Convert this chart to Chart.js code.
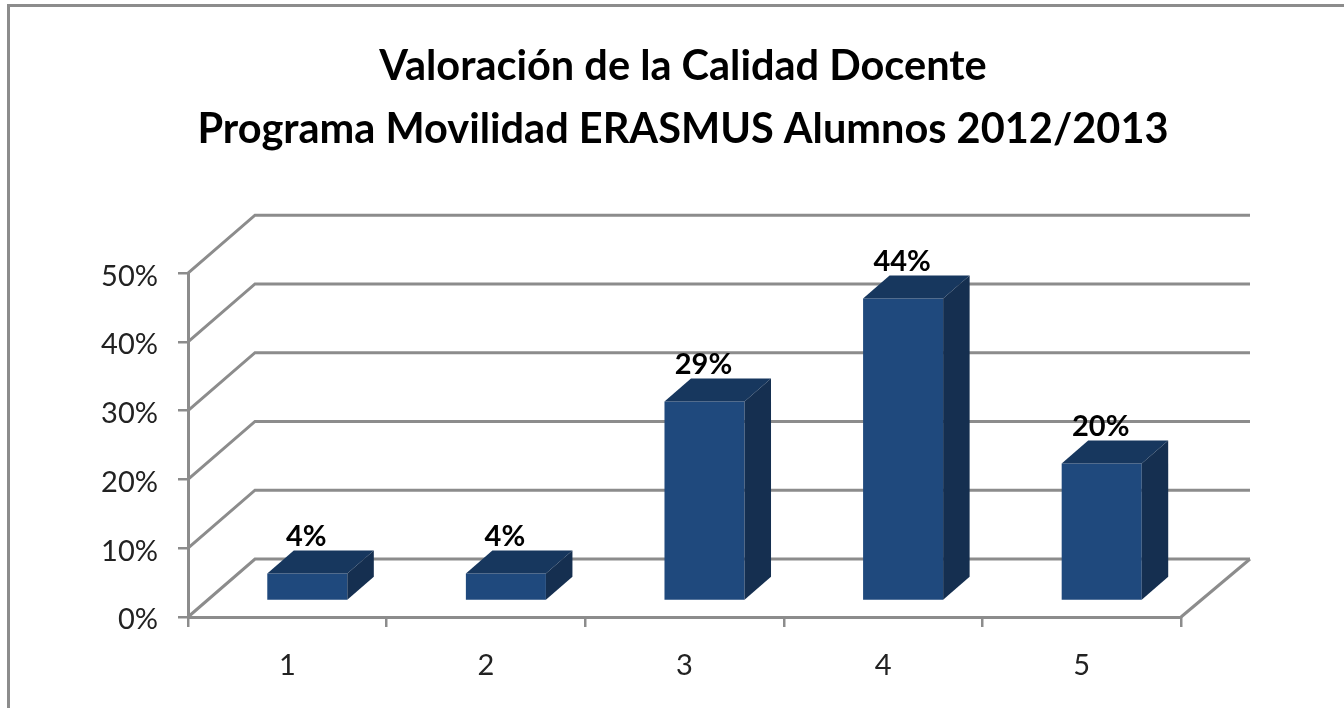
<!DOCTYPE html>
<html><head><meta charset="utf-8">
<script src="https://cdn.jsdelivr.net/npm/chart.js@4"></script>
<style>html,body{margin:0;padding:0;background:#fff;overflow:hidden}canvas{display:block;filter:blur(0.5px)}</style>
</head><body><div style="width:1344px;height:708px"><canvas id="c" width="1344" height="708"></canvas></div>
<script>
const categories = ['1','2','3','4','5'];
const values = [4,4,29,44,20];
const titleLines = ['Valoración de la Calidad Docente','Programa Movilidad ERASMUS Alumnos 2012/2013'];
const FONT='Lato';
const AXIS='#8c8c8c';
const wall={dx:67,dy:58}, barShift={dx:20,dy:-16}, barDepth={dx:26.5,dy:23};
const colors={front:'#1f497d',top:'#17375e',side:'#152f50'};
const scene={id:'scene',
 beforeDraw(ch){const c=ch.ctx;c.save();c.fillStyle='#fff';c.fillRect(0,0,ch.width,ch.height);
  c.strokeStyle=AXIS;c.lineWidth=3;c.beginPath();c.moveTo(8.5,708);c.lineTo(8.5,5.5);c.lineTo(1344,5.5);c.stroke();c.restore();},
 beforeDatasetsDraw(ch){const c=ch.ctx,y=ch.scales.y,x=ch.scales.x;c.save();c.strokeStyle=AXIS;c.lineWidth=3;
  y.ticks.forEach(t=>{const p=y.getPixelForValue(t.value);c.beginPath();c.moveTo(x.left,p);c.lineTo(x.left+wall.dx,p-wall.dy);c.lineTo(x.right+wall.dx+2,p-wall.dy);c.stroke();});
  const p0=y.getPixelForValue(0);c.beginPath();c.moveTo(x.right,p0);c.lineTo(x.right+wall.dx+2,p0-wall.dy);c.stroke();c.restore();
  c.save();c.translate(barShift.dx,barShift.dy);},
 afterDatasetsDraw(ch){const c=ch.ctx;
  ch.getDatasetMeta(0).data.forEach(b=>{const l=b.x-b.width/2,r=b.x+b.width/2;
   c.fillStyle=colors.top;c.beginPath();c.moveTo(l,b.y);c.lineTo(l+barDepth.dx,b.y-barDepth.dy);c.lineTo(r+barDepth.dx,b.y-barDepth.dy);c.lineTo(r,b.y);c.closePath();c.fill();
   c.fillStyle=colors.side;c.beginPath();c.moveTo(r,b.y);c.lineTo(r+barDepth.dx,b.y-barDepth.dy);c.lineTo(r+barDepth.dx,b.base-barDepth.dy);c.lineTo(r,b.base);c.closePath();c.fill();});
  c.fillStyle='#000';c.font='bold 29px '+FONT;c.textAlign='center';c.textBaseline='middle';
  ch.getDatasetMeta(0).data.forEach((b,i)=>{c.fillText(values[i]+'%',b.x-1,b.y-37);});
  c.restore();}
};
new Chart(document.getElementById('c'),{type:'bar',plugins:[scene],
 data:{labels:categories,datasets:[{data:values,backgroundColor:colors.front,borderWidth:0,categoryPercentage:1,barPercentage:0.403}]},
 options:{responsive:false,animation:false,
  layout:{padding:{left:22,right:0,top:0,bottom:0}},
  plugins:{legend:{display:false},tooltip:{enabled:false},
   title:{display:true,text:titleLines,color:'#000',font:{family:FONT,size:41.5,weight:'bold',lineHeight:1.52},padding:{top:35,bottom:112}}},
  scales:{
   x:{afterFit(s){s.height=91},grid:{drawOnChartArea:false,color:AXIS,lineWidth:2.5,tickLength:10},border:{color:AXIS,width:3},
      ticks:{color:'#222',font:{family:FONT,size:29},padding:21,maxRotation:0}},
   y:{min:0,max:50,afterFit(s){s.width=166},grid:{drawOnChartArea:false,color:AXIS,lineWidth:2.5,tickLength:10},border:{color:AXIS,width:3},
      ticks:{stepSize:10,color:'#222',font:{family:FONT,size:29},padding:20,labelOffset:3,callback:v=>v+'%'}},
   rightGap:{position:'right',afterFit(s){s.width=163},grid:{display:false},border:{display:false},ticks:{display:false}}
  }}});
</script></body></html>
